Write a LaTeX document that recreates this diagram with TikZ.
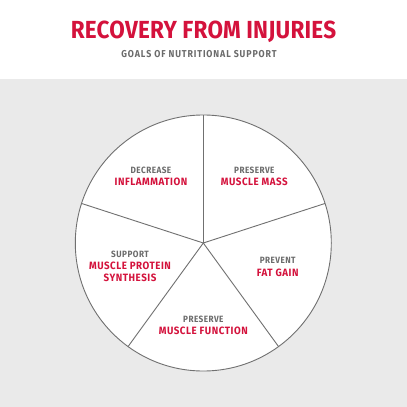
\documentclass[tikz,border=0pt]{standalone}
\usepackage{fontspec}
\usetikzlibrary{calc}
\setmainfont{Fira Sans}
\newfontfamily\titlefont[FakeStretch=0.91,LetterSpace=1]{Fira Sans Bold}
\newfontfamily\subtfont[FakeStretch=0.88,LetterSpace=9]{Fira Sans Bold}
\newfontfamily\smallfont[FakeStretch=0.9,LetterSpace=5]{Fira Sans Bold}
\newfontfamily\goalfont[FakeStretch=0.92,LetterSpace=5]{Fira Sans Bold}
\definecolor{brandred}{HTML}{D4123C}
\definecolor{txtgrey}{HTML}{6B6B6B}
\definecolor{bggrey}{HTML}{EAEAEA}
\definecolor{linegrey}{HTML}{707070}
\tikzset{
  sub/.style={text=txtgrey, font=\smallfont\fontsize{9.1}{10}\selectfont, inner sep=0pt},
  goal/.style={text=brandred, font=\goalfont\fontsize{10.6}{12.4}\selectfont, inner sep=0pt, align=center},
  spoke/.style={draw=linegrey, line width=0.9pt}
}
\begin{document}
\begin{tikzpicture}[x=1pt,y=-1pt]
\useasboundingbox (0,0) rectangle (407,407);
\fill[white] (0,0) rectangle (407,79);
\fill[bggrey] (0,79) rectangle (407,407);
\node[text=brandred, font=\titlefont\fontsize{24.7}{28}\selectfont, inner sep=0pt] (title) at (203.5,32) {RECOVERY FROM INJURIES};
\node[text=txtgrey, font=\subtfont\fontsize{10}{12}\selectfont, inner sep=0pt] (subtitle) at (199,54) {GOALS OF NUTRITIONAL SUPPORT};
\coordinate (c) at (203.3,243);
\draw[linegrey, fill=white, line width=0.9pt] (c) circle[radius=128];
\foreach \a [count=\i] in {-90,-18,54,126,-162}{
  \coordinate (p\i) at ($(c)+(\a:128)$);
  \draw[spoke] (c) -- (p\i);
}
\node[sub] (s1) at (151,170.7) {DECREASE};
\node[goal] (g1) at (151,182.3) {INFLAMMATION};
\node[sub] (s2) at (254.3,170.7) {PRESERVE};
\node[goal] (g2) at (254.3,182.3) {MUSCLE MASS};
\node[sub] (s3) at (277.7,260.7) {PREVENT};
\node[goal] (g3) at (277.7,272.7) {FAT GAIN};
\node[sub] (s4) at (203.3,319.3) {PRESERVE};
\node[goal] (g4) at (203.3,331) {MUSCLE FUNCTION};
\node[sub] (s5) at (130,254.3) {SUPPORT};
\node[goal, anchor=north] (g5) at (130,261.5) {MUSCLE PROTEIN\\SYNTHESIS};
\end{tikzpicture}
\end{document}
